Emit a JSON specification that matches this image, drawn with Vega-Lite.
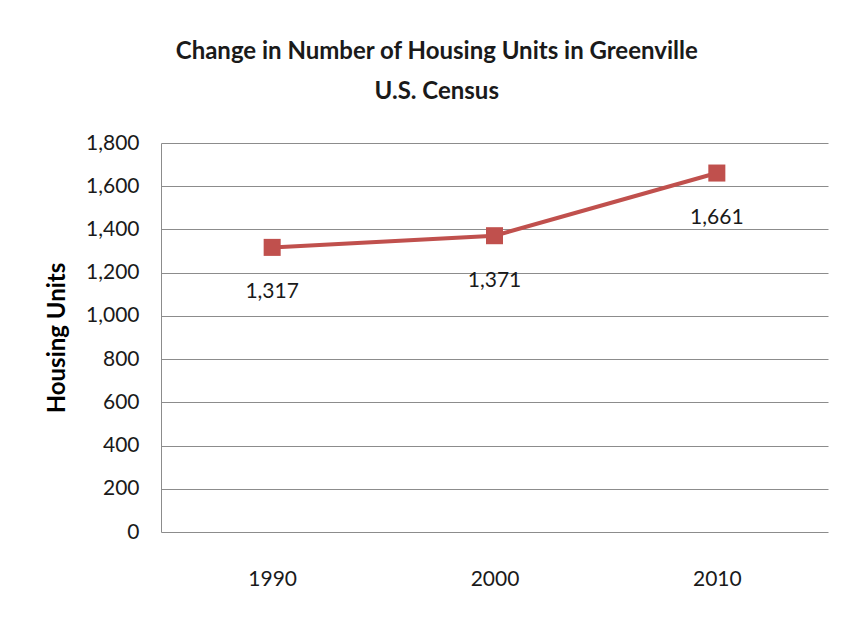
{
  "$schema": "https://vega.github.io/schema/vega-lite/v6.json",
  "autosize": "none",
  "width": 667,
  "height": 389,
  "padding": {"left": 161, "top": 143, "right": 22, "bottom": 87},
  "background": "white",
  "title": {
    "text": ["Change in Number of Housing Units in Greenville", "U.S. Census"],
    "font": "Lato, sans-serif",
    "fontSize": 24,
    "fontWeight": "bold",
    "lineHeight": 40,
    "color": "#1a1a1a",
    "anchor": "middle",
    "frame": "bounds",
    "offset": 28
  },
  "data": {
    "values": [
      {"year": "1990", "units": 1317},
      {"year": "2000", "units": 1371},
      {"year": "2010", "units": 1661}
    ]
  },
  "config": {
    "view": {"stroke": null},
    "axis": {
      "labelFont": "Lato, sans-serif",
      "labelFontSize": 21,
      "labelColor": "#1a1a1a",
      "titleFont": "Lato, sans-serif",
      "titleColor": "#000000"
    }
  },
  "encoding": {
    "x": {
      "field": "year",
      "type": "ordinal",
      "axis": {
        "title": null,
        "labelAngle": 0,
        "ticks": false,
        "domain": false,
        "grid": false,
        "labelPadding": 36
      }
    },
    "y": {
      "field": "units",
      "type": "quantitative",
      "scale": {"domain": [0, 1800]},
      "axis": {
        "title": "Housing Units",
        "titleFontSize": 24,
        "titleFontWeight": "bold",
        "titlePadding": 16,
        "values": [0, 200, 400, 600, 800, 1000, 1200, 1400, 1600, 1800],
        "format": ",.0f",
        "ticks": false,
        "labelPadding": 22,
        "domain": true,
        "domainColor": "#8c8c8c",
        "domainWidth": 1,
        "grid": true,
        "gridColor": "#8c8c8c",
        "gridWidth": 1
      }
    }
  },
  "layer": [
    {
      "mark": {"type": "line", "color": "#C0504D", "strokeWidth": 4}
    },
    {
      "mark": {"type": "point", "shape": "square", "filled": true, "opacity": 1, "color": "#C0504D", "size": 290}
    },
    {
      "mark": {
        "type": "text",
        "dy": 45,
        "font": "Lato, sans-serif",
        "fontSize": 21,
        "color": "#1a1a1a"
      },
      "encoding": {
        "text": {"field": "units", "type": "quantitative", "format": ",.0f"}
      }
    }
  ]
}
